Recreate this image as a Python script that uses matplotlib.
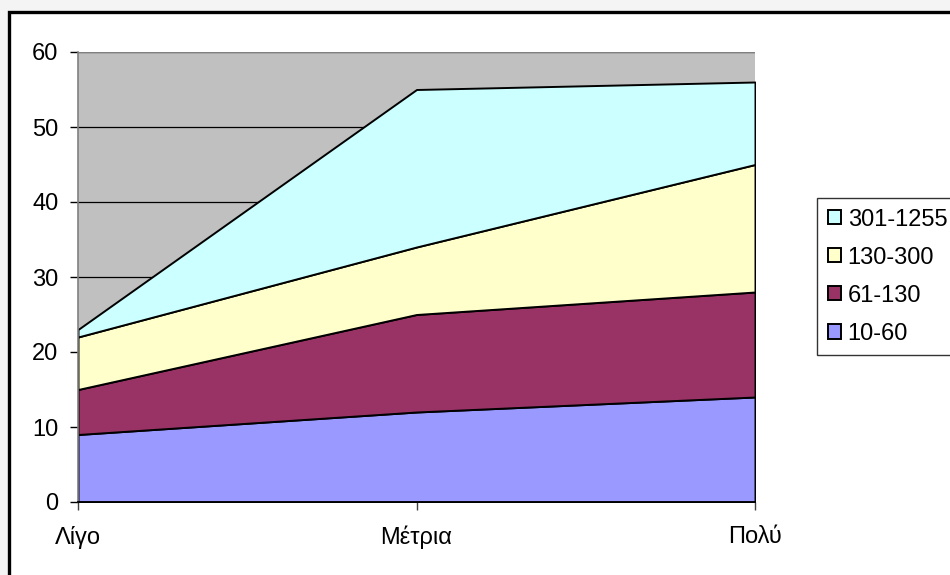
import matplotlib.pyplot as plt
from matplotlib.patches import Rectangle

# Data
categories = ['Λίγο', 'Μέτρια', 'Πολύ']
series_names = ['10-60', '61-130', '130-300', '301-1255']
s_10_60 = [9, 12, 14]
s_61_130 = [6, 13, 14]
s_130_300 = [7, 9, 17]
s_301_1255 = [1, 21, 11]
colors = ['#9999FF', '#993366', '#FFFFCC', '#CCFFFF']

plt.rcParams['font.family'] = ['Liberation Sans', 'DejaVu Sans']

W, H = 950, 575
fig = plt.figure(figsize=(9.5, 5.75), dpi=100)
fig.patch.set_facecolor('#F4F4F4')

# outer chart frame (runs off the right and bottom edges)
fig.patches.append(Rectangle((9 / W, -0.05), 1.0, 1.05 - 12 / H,
                             transform=fig.transFigure, facecolor='white',
                             edgecolor='black', linewidth=2.4, zorder=-10))

ax = fig.add_axes([78 / W, 1 - 502 / H, (755 - 78) / W, (502 - 52) / H])
ax.set_facecolor('#C0C0C0')

x = list(range(len(categories)))
polys = ax.stackplot(x, s_10_60, s_61_130, s_130_300, s_301_1255,
                     colors=colors, labels=series_names,
                     edgecolor='black', linewidth=1.4, zorder=2)

ax.set_xlim(0, 2)
ax.set_ylim(0, 60)
ax.set_yticks(range(0, 61, 10))
ax.set_xticks(x)
ax.set_xticklabels(categories)

ax.yaxis.grid(True, color='black', linewidth=0.9, zorder=1)
ax.set_axisbelow(True)

for side in ['top', 'right']:
    ax.spines[side].set_visible(False)
ax.spines['left'].set_color('#808080')
ax.spines['bottom'].set_color('black')
ax.spines['bottom'].set_linewidth(1.3)
ax.spines['bottom'].set_zorder(3)
ax.spines['left'].set_linewidth(1.2)
ax.axhline(60, color='#808080', linewidth=1.5, zorder=3)

ax.tick_params(axis='y', length=6, width=1, color='black', labelsize=17, pad=8)
ax.tick_params(axis='x', length=6, width=1, color='#404040', labelsize=17, pad=11)

handles, labels = ax.get_legend_handles_labels()
leg = fig.legend(handles[::-1], labels[::-1], loc='upper left',
                 bbox_to_anchor=(817 / W, 1 - 198 / H), frameon=True,
                 fancybox=False, edgecolor='black', fontsize=17,
                 handlelength=0.55, handleheight=0.55, handletextpad=0.3,
                 labelspacing=0.68, borderpad=0.45, borderaxespad=0)
leg.get_frame().set_linewidth(1.0)

fig.savefig('out.png', dpi=100)
